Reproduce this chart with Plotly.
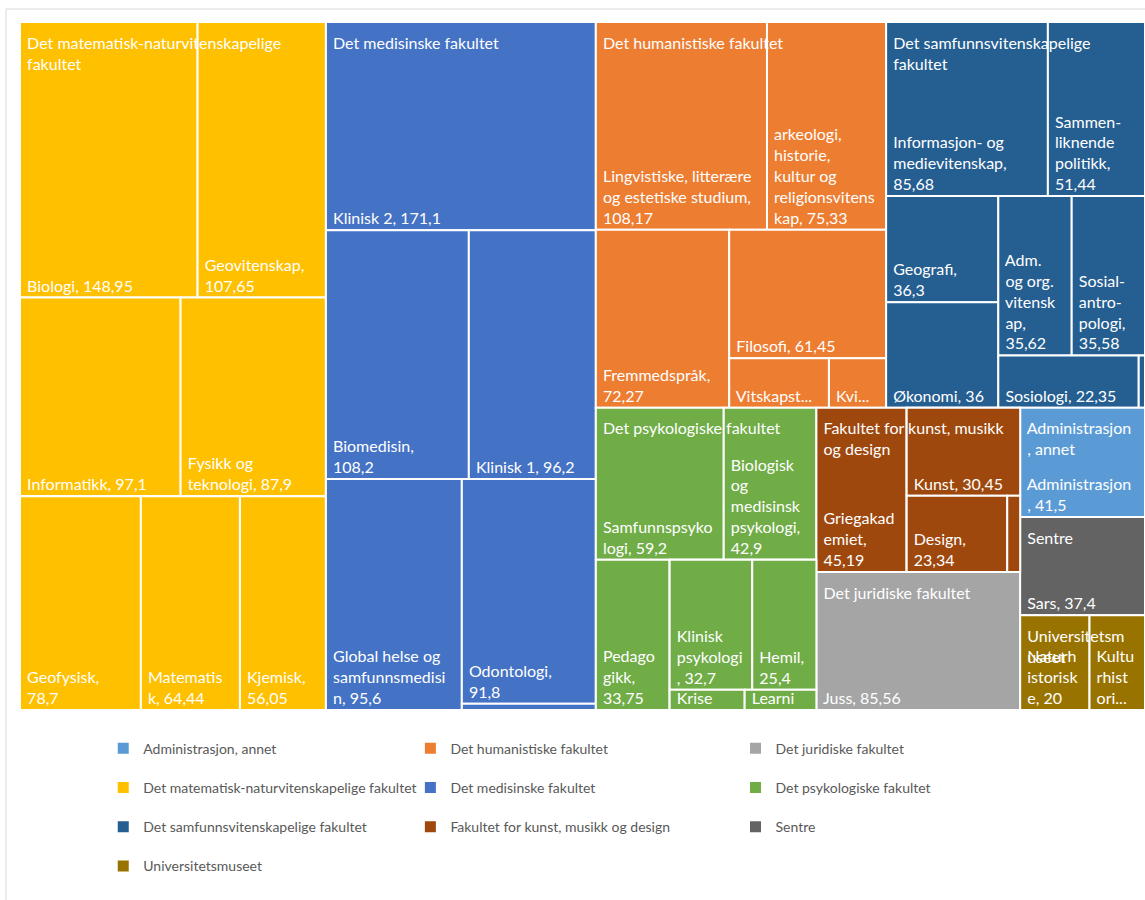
import plotly.graph_objects as go

FONT = "Lato"

# ---------------- data ----------------
faculties = [
    "Det matematisk-naturvitenskapelige fakultet",
    "Det medisinske fakultet",
    "Det humanistiske fakultet",
    "Det samfunnsvitenskapelige fakultet",
    "Det psykologiske fakultet",
    "Fakultet for kunst, musikk og design",
    "Det juridiske fakultet",
    "Administrasjon, annet",
    "Sentre",
    "Universitetsmuseet",
]
faculty_colors = ["#FFC000", "#4472C4", "#ED7D31", "#255E91", "#70AD47",
                  "#9E480E", "#A5A5A5", "#5B9BD5", "#636363", "#997300"]
faculty_headers = [
    "Det matematisk-naturvitenskapelige<br>fakultet",
    "Det medisinske fakultet",
    "Det humanistiske fakultet",
    "Det samfunnsvitenskapelige<br>fakultet",
    "Det psykologiske fakultet",
    "Fakultet for kunst, musikk<br>og design",
    "Det juridiske fakultet",
    "Administrasjon<br>, annet",
    "Sentre",
    "Universitetsm<br>useet",
]

matnat_depts = ["Biologi", "Geovitenskap", "Informatikk", "Fysikk og teknologi",
                "Geofysisk", "Matematisk", "Kjemisk"]
matnat_values = [148.95, 107.65, 97.1, 87.9, 78.7, 64.44, 56.05]
matnat_text = ["Biologi, {v}", "Geovitenskap,<br>{v}", "Informatikk, {v}",
               "Fysikk og<br>teknologi, {v}", "Geofysisk,<br>{v}",
               "Matematis<br>k, {v}", "Kjemisk,<br>{v}"]
matnat_tiles = ["", "", "", "", "a", "a", ""]

med_depts = ["Klinisk 2", "Biomedisin", "Klinisk 1",
             "Global helse og samfunnsmedisin", "Odontologi", "Øvrige (med.)"]
med_values = [171.1, 108.2, 96.2, 95.6, 91.8, 2.5]
med_text = ["Klinisk 2, {v}", "Biomedisin,<br>{v}", "Klinisk 1, {v}",
            "Global helse og<br>samfunnsmedisi<br>n, {v}", "Odontologi,<br>{v}", ""]
med_tiles = ["", "", "", "", "", ""]

hum_depts = ["Lingvistiske, litterære og estetiske studium",
             "arkeologi, historie, kultur og religionsvitenskap",
             "Fremmedspråk", "Filosofi", "Vitskapsteori", "Kvinneforskning"]
hum_values = [108.17, 75.33, 72.27, 61.45, 15.0, 8.6]
hum_text = ["Lingvistiske, litterære<br>og estetiske studium,<br>{v}",
            "arkeologi,<br>historie,<br>kultur og<br>religionsvitens<br>kap, {v}",
            "Fremmedspråk,<br>{v}", "Filosofi, {v}", "Vitskapst...", "Kvi..."]
hum_tiles = ["", "", "", "", "", ""]

samf_depts = ["Informasjon- og medievitenskap", "Sammenliknende politikk",
              "Geografi", "Økonomi", "Adm. og org. vitenskap",
              "Sosialantropologi", "Sosiologi", "Øvrige (samf.)"]
samf_values = [85.68, 51.44, 36.3, 36.0, 35.62, 35.58, 22.35, 1.0]
samf_text = ["Informasjon- og<br>medievitenskap,<br>{v}",
             "Sammen-<br>liknende<br>politikk,<br>{v}",
             "Geografi,<br>{v}", "Økonomi, {v}",
             "Adm.<br>og org.<br>vitensk<br>ap,<br>{v}",
             "Sosial-<br>antro-<br>pologi,<br>{v}", "Sosiologi, {v}", ""]
samf_tiles = ["", "", "", "", "", "", "", ""]

psyk_depts = ["Samfunnspsykologi", "Biologisk og medisinsk psykologi",
              "Pedagogikk", "Klinisk psykologi", "Hemil", "Krise", "Learning"]
psyk_values = [59.2, 42.9, 33.75, 32.7, 25.4, 4.6, 4.4]
psyk_text = ["Samfunnspsyko<br>logi, {v}",
             "Biologisk<br>og<br>medisinsk<br>psykologi,<br>{v}",
             "Pedago<br>gikk,<br>{v}", "Klinisk<br>psykologi<br>, {v}",
             "Hemil,<br>{v}", "Krise", "Learni"]
psyk_tiles = ["", "", "", "b", "b", "b", "b"]

kmd_depts = ["Griegakademiet", "Kunst", "Design", "Øvrige (KMD)"]
kmd_values = [45.19, 30.45, 23.34, 3.0]
kmd_text = ["Griegakad<br>emiet,<br>{v}", "Kunst, {v}", "Design,<br>{v}", ""]
kmd_tiles = ["", "c", "c", "c"]

jur_depts = ["Juss"]
jur_values = [85.56]
jur_text = ["Juss, {v}"]
jur_tiles = [""]

adm_depts = ["Administrasjon"]
adm_values = [41.5]
adm_text = ["Administrasjon<br>, {v}"]
adm_tiles = [""]

sentre_depts = ["Sars"]
sentre_values = [37.4]
sentre_text = ["Sars, {v}"]
sentre_tiles = [""]

mus_depts = ["Naturhistorisk", "Kulturhistorisk"]
mus_values = [20.0, 16.0]
mus_text = ["Naturh<br>istorisk<br>e, {v}", "Kultu<br>rhist<br>ori..."]
mus_tiles = ["", ""]

departments = [
    (matnat_depts, matnat_values, matnat_text, matnat_tiles),
    (med_depts, med_values, med_text, med_tiles),
    (hum_depts, hum_values, hum_text, hum_tiles),
    (samf_depts, samf_values, samf_text, samf_tiles),
    (psyk_depts, psyk_values, psyk_text, psyk_tiles),
    (kmd_depts, kmd_values, kmd_text, kmd_tiles),
    (jur_depts, jur_values, jur_text, jur_tiles),
    (adm_depts, adm_values, adm_text, adm_tiles),
    (sentre_depts, sentre_values, sentre_text, sentre_tiles),
    (mus_depts, mus_values, mus_text, mus_tiles),
]

legend_columns = [
    ["Administrasjon, annet", "Det matematisk-naturvitenskapelige fakultet",
     "Det samfunnsvitenskapelige fakultet", "Universitetsmuseet"],
    ["Det humanistiske fakultet", "Det medisinske fakultet",
     "Fakultet for kunst, musikk og design"],
    ["Det juridiske fakultet", "Det psykologiske fakultet", "Sentre"],
]

NBSP = "\u00a0"


def fmt(v):
    return f"{v:g}".replace(".", ",")


def indent(s):
    return NBSP + s.replace("<br>", "<br>" + NBSP)


def bottom_label(t, v):
    if not t:
        return ""
    return indent(t.format(v=fmt(v)))


def header_label(h):
    return "<span style='font-size:3px'>" + NBSP + "</span><br>" + indent(h)


# ---------------- hierarchy (layout groups only steer the tiling) ----------
ids, labels, parents, values, colors, text_main, text_head = [], [], [], [], [], [], []


def add(i, lab, par, val, col, t1, t2):
    ids.append(i); labels.append(lab); parents.append(par); values.append(val)
    colors.append(col); text_main.append(t1); text_head.append(t2)


def add_faculty(k, parent):
    fac = faculties[k]
    col = faculty_colors[k]
    add(fac, fac, parent, 0, col, "", "")
    names, vals, texts, tiles = departments[k]
    made = set()
    for j, (n, v, t, g) in enumerate(zip(names, vals, texts, tiles)):
        par = fac
        if g:
            gid = f"{fac}|{g}"
            if gid not in made:
                add(gid, "", fac, 0, col, "", "")
                made.add(gid)
            par = gid
        add(f"{fac}/{n}", n, par, v, col, bottom_label(t, v),
            header_label(faculty_headers[k]) if j == 0 else "")


add_faculty(0, "")
add("G2", "", "", 0, "white", "", "")
add_faculty(1, "G2")
add("G3", "", "G2", 0, "white", "", "")
for k in range(2, 10):
    add_faculty(k, "G3")

common = dict(
    ids=ids, labels=labels, parents=parents, values=values,
    branchvalues="remainder", sort=False,
    tiling=dict(packing="squarify", squarifyratio=1.105, pad=0),
    pathbar=dict(visible=False),
    domain=dict(x=[0, 1], y=[0, 1]),
    textinfo="text",
    textfont=dict(family=FONT, size=16, color="white"),
)

fig = go.Figure()
fig.add_trace(go.Treemap(
    **common,
    text=text_main,
    textposition="bottom left",
    marker=dict(colors=colors, line=dict(color="white", width=2),
                pad=dict(t=0, l=0, r=0, b=0), depthfade=False),
    hovertemplate="%{label}: %{value}<extra></extra>",
))
fig.add_trace(go.Treemap(
    **common,
    text=text_head,
    textposition="top left",
    marker=dict(colors=["rgba(0,0,0,0)"] * len(ids), line=dict(width=0),
                pad=dict(t=0, l=0, r=0, b=0), depthfade=False),
    hoverinfo="skip",
))

# legend entries
legend_keys = ["legend", "legend2", "legend3"]
for li, col_items in enumerate(legend_columns):
    for name in col_items:
        c = faculty_colors[faculties.index(name)]
        fig.add_trace(go.Scatter(
            x=[None], y=[None], mode="markers", name=name,
            marker=dict(symbol="square", size=11, color=c),
            legend=legend_keys[li], legendgroup=name, showlegend=True,
            hoverinfo="skip",
        ))

leg_common = dict(
    orientation="v", yanchor="top", y=-0.033, xanchor="left",
    font=dict(family=FONT, size=14, color="#595959"),
    bgcolor="rgba(0,0,0,0)", tracegroupgap=18, itemclick=False,
)
fig.update_layout(
    width=1145, height=900,
    margin=dict(l=20, r=0, t=22, b=190),
    paper_bgcolor="white", plot_bgcolor="white",
    font=dict(family=FONT),
    uniformtext=dict(minsize=16, mode="show"),
    xaxis=dict(visible=False), yaxis=dict(visible=False),
    legend=dict(x=0.074, **leg_common),
    legend2=dict(x=0.347, **leg_common),
    legend3=dict(x=0.636, **leg_common),
    shapes=[dict(type="rect", xref="paper", yref="paper",
                 x0=-14 / 1125, x1=1.02, y0=-0.3, y1=1 + 13 / 688,
                 line=dict(color="#D9D9D9", width=1), layer="below")],
)

fig.write_html("out.html",
               config={"displayModeBar": False},
               post_script="document.body.style.margin='0px';"
                           "document.body.style.overflow='hidden';")
